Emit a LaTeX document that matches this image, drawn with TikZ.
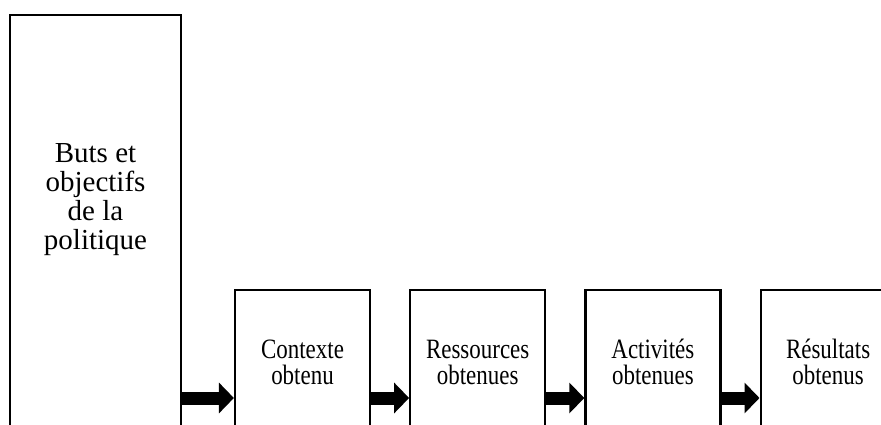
\documentclass[tikz,border=0pt]{standalone}
\usepackage{fontspec}
\setmainfont{Liberation Serif}
\newfontfamily\narrowserif[FakeStretch=0.82]{Liberation Serif}
\usepackage{tikz}
\usetikzlibrary{arrows.meta,positioning}

\begin{document}
\begin{tikzpicture}[
  x=1pt, y=-1pt,
  node distance=38pt,
  panel/.style={draw, line width=2.2pt, minimum width=171pt, minimum height=450pt},
  stage/.style={draw, line width=2.2pt, minimum width=135pt, minimum height=144pt,
                align=center, font=\narrowserif\fontsize{28}{26}\selectfont},
  flow/.style={-{Triangle[length=15pt, width=30pt]}, line width=13pt}
]
  \useasboundingbox (0,0) rectangle (881,425);
  \clip (0,0) rectangle (881,425);

  \node[panel] (goal) at (95.5,240) {};
  \node[align=center, font=\fontsize{29}{29}\selectfont] (goaltext)
    at ([yshift=40pt]goal.center) {Buts et\\objectifs\\de la\\politique};

  \node[stage] (ctx) at (302.5,362) {Contexte\\obtenu};
  \node[stage, right=of ctx] (res) {Ressources\\obtenues};
  \node[stage, right=of res] (act) {Activités\\obtenues};
  \node[stage, right=of act] (out) {Résultats\\obtenus};

  \coordinate (lane) at (0,398);
  \draw[flow] (goal.east |- lane) -- (ctx.west |- lane);
  \draw[flow] (ctx.east |- lane)  -- (res.west |- lane);
  \draw[flow] (res.east |- lane)  -- (act.west |- lane);
  \draw[flow] (act.east |- lane)  -- (out.west |- lane);
\end{tikzpicture}
\end{document}
